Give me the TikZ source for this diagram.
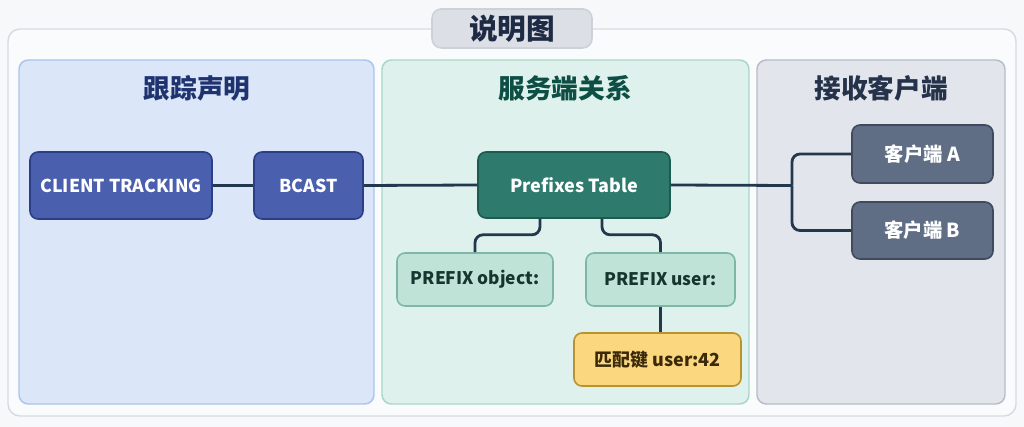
\documentclass[tikz,border=0pt]{standalone}
\usepackage{fontspec}
\setmainfont{Noto Sans CJK SC}
\usetikzlibrary{calc}
\definecolor{bgc}{HTML}{F7F8FA}
\definecolor{outerf}{HTML}{FAFBFC}
\definecolor{outerd}{HTML}{D6DBE1}
\definecolor{titlef}{HTML}{DCE0E6}
\definecolor{titled}{HTML}{CDD2D9}
\definecolor{titlet}{HTML}{1F2B45}
\definecolor{bluef}{HTML}{DBE7F8}
\definecolor{blued}{HTML}{A9C5EC}
\definecolor{bluet}{HTML}{1E3370}
\definecolor{greenf}{HTML}{DFF1EC}
\definecolor{greend}{HTML}{A8D6C7}
\definecolor{greent}{HTML}{0E4F45}
\definecolor{grayf}{HTML}{E2E6EC}
\definecolor{grayd}{HTML}{B6BDC7}
\definecolor{grayt}{HTML}{25324A}
\definecolor{navyf}{HTML}{4A5FAE}
\definecolor{navyd}{HTML}{2C3F86}
\definecolor{tealf}{HTML}{2E7A6C}
\definecolor{teald}{HTML}{1D5A50}
\definecolor{slatef}{HTML}{5F6E85}
\definecolor{slated}{HTML}{3F4A5C}
\definecolor{mintf}{HTML}{BFE3D6}
\definecolor{mintd}{HTML}{7FB7A5}
\definecolor{mintt}{HTML}{15352F}
\definecolor{goldf}{HTML}{FBD77F}
\definecolor{goldd}{HTML}{B89330}
\definecolor{goldt}{HTML}{3A2A0A}
\definecolor{linec}{HTML}{22384F}
\tikzset{
  panel/.style={rounded corners=7pt, line width=1.1pt},
  box/.style={rounded corners=6pt, line width=1.2pt, font=\bfseries, align=center, inner sep=0pt},
  navybox/.style={box, fill=navyf, draw=navyd, text=white, font=\bfseries\fontsize{13.3}{15}\selectfont},
  tealbox/.style={box, fill=tealf, draw=teald, text=white, font=\bfseries\fontsize{13.5}{15}\selectfont},
  slatebox/.style={box, fill=slatef, draw=slated, text=white, font=\bfseries\fontsize{14.5}{16}\selectfont},
  mintbox/.style={box, fill=mintf, draw=mintd, text=mintt, font=\bfseries\fontsize{13}{15}\selectfont},
  goldbox/.style={box, fill=goldf, draw=goldd, text=goldt, font=\bfseries\fontsize{13.5}{15}\selectfont},
  ptitle/.style={font=\bfseries\fontsize{20}{23}\selectfont},
  conn/.style={draw=linec, line width=2.1pt, rounded corners=6pt}
}
\begin{document}
\begin{tikzpicture}[x=0.75pt, y=-0.75pt]
\useasboundingbox (0,0) rectangle (1024,427);
\fill[bgc] (0,0) rectangle (1024,427);
% outer panel
\draw[panel, fill=outerf, draw=outerd, rounded corners=9pt] (8,29) rectangle (1016,416);
% section panels
\draw[panel, fill=bluef, draw=blued] (19,60) rectangle (374,404);
\draw[panel, fill=greenf, draw=greend] (382,60) rectangle (749,404);
\draw[panel, fill=grayf, draw=grayd] (757,60) rectangle (1005,404);
% title
\node[box, fill=titlef, draw=titled, text=titlet, minimum width=160*0.75pt, minimum height=39*0.75pt, rounded corners=7pt, font=\bfseries\fontsize{21.5}{24}\selectfont] (title) at (512,28.5) {说明图};
% panel titles
\node[ptitle, text=bluet] (t1) at (197,88) {跟踪声明};
\node[ptitle, text=greent] (t2) at (565,88) {服务端关系};
\node[ptitle, text=grayt] (t3) at (881,88) {接收客户端};
% nodes
\node[navybox, minimum width=182*0.75pt, minimum height=67*0.75pt] (ct) at (121,185.5) {CLIENT TRACKING};
\node[navybox, minimum width=109*0.75pt, minimum height=67*0.75pt] (bc) at (308.5,185.5) {BCAST};
\node[tealbox, minimum width=192*0.75pt, minimum height=66*0.75pt] (pt) at (574,185) {Prefixes Table};
\node[slatebox, minimum width=141*0.75pt, minimum height=58*0.75pt] (ca) at (922.5,154) {客户端 A};
\node[slatebox, minimum width=141*0.75pt, minimum height=57*0.75pt] (cb) at (922.5,230.5) {客户端 B};
\node[mintbox, minimum width=156*0.75pt, minimum height=53*0.75pt] (po) at (475,279.5) {PREFIX object:};
\node[mintbox, minimum width=149*0.75pt, minimum height=53*0.75pt] (pu) at (660.5,279.5) {PREFIX user:};
\node[goldbox, minimum width=167*0.75pt, minimum height=53*0.75pt] (mk) at (657.5,359.5) {匹配键 user:42};
\coordinate (j) at (792,185.5);
\coordinate (s1) at (540,0);
\coordinate (s2) at (602,0);
% connectors
\draw[conn] (ct.east) -- (bc.west);
\draw[conn] (bc.east) -- (pt.west);
\draw[conn] (pt.east) -- (j);
\draw[conn] (j) |- (ca.west);
\draw[conn] (j) |- (cb.west);
\draw[conn] (pt.south -| s1) -- ++(0,16) -| (po.north);
\draw[conn] (pt.south -| s2) -- ++(0,16) -| (pu.north);
\draw[conn] (pu.south) -- (pu.south |- mk.north);
\end{tikzpicture}
\end{document}
